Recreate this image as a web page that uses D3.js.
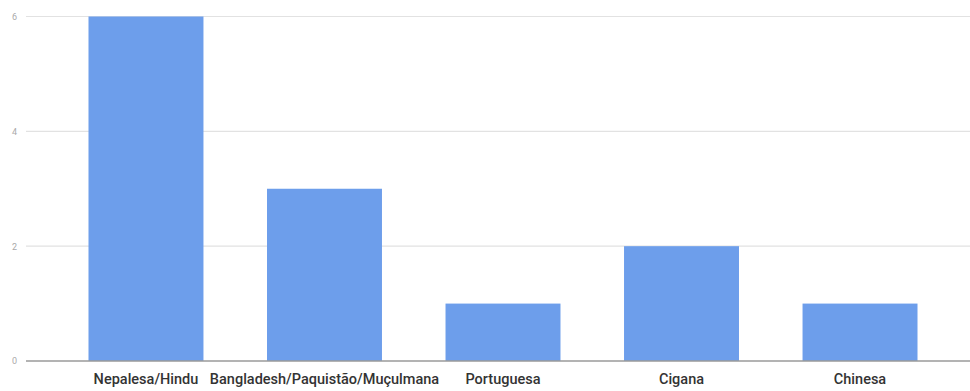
<!DOCTYPE html>
<html><head><meta charset="utf-8">
<script src="https://cdn.jsdelivr.net/npm/d3@7"></script>
<style>body{margin:0;background:#fff;} svg{display:block;}</style>
</head><body>
<svg id="c" width="970" height="391"></svg>
<script>
const categories = ["Nepalesa/Hindu","Bangladesh/Paquistão/Muçulmana","Portuguesa","Cigana","Chinesa"];
const values = [6, 3, 1, 2, 1];
const yTicks = [0, 2, 4, 6];

const svg = d3.select("#c");
const x = d3.scaleBand().domain(categories).range([88.5, 917.5]).paddingInner(0.356).paddingOuter(0);
const y = d3.scaleLinear().domain([0, 6]).range([361, 16.5]);

const grid = svg.append("g");
yTicks.filter(t => t !== 0).forEach(t => {
  grid.append("line").attr("x1", 26).attr("x2", 970).attr("y1", y(t)).attr("y2", y(t))
    .attr("stroke", "#e2e2e2").attr("stroke-width", 1.2);
});

svg.append("g").selectAll("rect").data(values).join("rect")
  .attr("x", (d, i) => x(categories[i]))
  .attr("width", x.bandwidth())
  .attr("y", d => y(d))
  .attr("height", d => y(0) - y(d))
  .attr("fill", "#6d9eeb");

svg.append("line").attr("x1", 26).attr("x2", 970).attr("y1", y(0)).attr("y2", y(0))
  .attr("stroke", "#9a9a9a").attr("stroke-width", 1.6);

const yAxis = d3.axisLeft(y).tickValues(yTicks).tickSize(0).tickPadding(0).tickFormat(d3.format("d"));
const ya = svg.append("g").attr("transform", "translate(17,0)").call(yAxis);
ya.select(".domain").remove();
ya.selectAll("text").attr("fill", "#aaaaaa").style("font-family", "Roboto, Arial, sans-serif").style("font-size", "9px");

const xAxis = d3.axisBottom(x).tickSize(0).tickPadding(0);
const xa = svg.append("g").attr("transform", "translate(0,373.5)").call(xAxis);
xa.select(".domain").remove();
xa.selectAll("text").attr("fill", "#333333").style("font-family", "Roboto, Arial, sans-serif").style("font-size", "14.5px").style("font-weight", "500");
</script>
</body></html>
